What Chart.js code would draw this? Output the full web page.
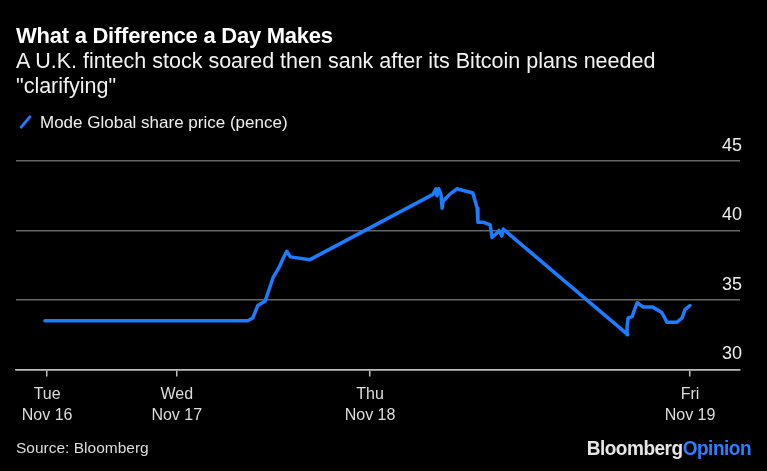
<!DOCTYPE html>
<html>
<head>
<meta charset="utf-8">
<script src="https://cdn.jsdelivr.net/npm/chart.js@4"></script>
<style>
  body { margin: 0; background: #000; width: 767px; height: 471px; overflow: hidden; font-family: "Liberation Sans", Arial, sans-serif; color: #fff; }
  #wrap { position: absolute; left: 0; top: 0; width: 767px; height: 471px; }
  .txt { position: absolute; left: 16px; white-space: nowrap; }
  #title { top: 23px; font-size: 22px; font-weight: bold; letter-spacing: -0.25px; }
  #sub { top: 49px; font-size: 21.5px; line-height: 25px; color: #f2f2f2; }
  #legend { top: 113px; font-size: 17px; color: #eee; }
  #legend i { display: inline-block; width: 3px; height: 16px; background: #1a7cff; transform: rotate(40deg); margin: 0 13px -2px 8px; border-radius: 1px; }
  #source { top: 439px; font-size: 15.5px; color: #ddd; }
  #logo { position: absolute; right: 16px; top: 437px; font-family: "Liberation Sans Narrow", "Arial Narrow", sans-serif; font-weight: bold; font-size: 20px; color: #e6e6e6; letter-spacing: -0.5px; transform: scaleX(0.95); transform-origin: right center; }
  #logo span { color: #2a7fff; }
</style>
</head>
<body>
<div id="wrap"><canvas id="myChart"></canvas></div>
<div class="txt" id="title">What a Difference a Day Makes</div>
<div class="txt" id="sub">A U.K. fintech stock soared then sank after its Bitcoin plans needed<br>"clarifying"</div>
<div class="txt" id="legend"><i></i>Mode Global share price (pence)</div>
<div class="txt" id="source">Source: Bloomberg</div>
<div id="logo">Bloomberg<span>Opinion</span></div>
<script>
"use strict"
// Daten (x = Position auf der Handelszeit-Achse, 0..100)
const dayTicks = [4.3, 22.2, 48.9, 93.1];
const dayLabels = [["Tue", "Nov 16"], ["Wed", "Nov 17"], ["Thu", "Nov 18"], ["Fri", "Nov 19"]];
const priceTicks = [30, 35, 40, 45];

const sessionPos = [4.0, 32.0, 32.7, 33.4, 34.4, 35.5, 36.3, 36.9, 37.4, 37.9, 40.6,
  57.6, 58.0, 58.15, 58.4, 58.7, 58.85, 59.0, 59.9, 60.9, 63.1, 63.7, 63.8, 64.5, 65.5,
  65.75, 66.4, 66.7, 67.1, 67.3, 84.5, 84.4, 84.55, 85.1, 85.5, 85.8, 86.6, 87.9, 89.2,
  89.9, 91.3, 92.0, 92.4, 93.1];
const price = [33.5, 33.5, 33.7, 34.6, 34.9, 36.6, 37.3, 38.0, 38.5, 38.1, 37.9,
  42.6, 43.0, 42.5, 43.0, 42.6, 41.6, 42.1, 42.6, 43.0, 42.7, 41.6, 40.6, 40.6, 40.4,
  39.5, 39.8, 40.0, 39.6, 40.1, 32.5, 33.1, 33.7, 33.8, 34.4, 34.8, 34.5, 34.5, 34.1,
  33.4, 33.4, 33.7, 34.3, 34.6];

let points = [];
for (let i = 0; i < sessionPos.length; i++) {
    points.push({x: sessionPos[i], y: price[i]});
}

const config = {
    type: 'line',
    data: {
        datasets: [{
            label: 'Mode Global share price (pence)',
            data: points,
            borderColor: '#1a7cff',
            borderWidth: 3.5,
            pointRadius: 0,
            tension: 0,
            borderJoinStyle: 'round',
            borderCapStyle: 'round'
        }]
    },
    options: {
        responsive: true,
        maintainAspectRatio: false,
        animation: false,
        layout: { padding: { left: 16, right: 23, top: 161, bottom: 37 } },
        plugins: { legend: { display: false }, tooltip: { enabled: false } },
        scales: {
            x: {
                type: 'linear',
                min: 0, max: 100,
                afterBuildTicks: function (axis) {
                    axis.ticks = dayTicks.map(v => ({value: v}));
                },
                grid: { drawOnChartArea: false, drawTicks: true, tickLength: 7, color: '#bbb', lineWidth: 1.5 },
                border: { display: true, color: '#bbb', width: 1.5 },
                ticks: {
                    color: '#ddd',
                    font: { family: '"Liberation Sans", Arial, sans-serif', size: 16, lineHeight: 1.3 },
                    maxRotation: 0,
                    autoSkip: false,
                    padding: 8,
                    callback: function (value) {
                        let idx = dayTicks.indexOf(value);
                        return idx >= 0 ? dayLabels[idx] : '';
                    }
                }
            },
            y: {
                position: 'right',
                min: 30, max: 45,
                afterBuildTicks: function (axis) {
                    axis.ticks = priceTicks.map(v => ({value: v}));
                },
                grid: {
                    drawTicks: false,
                    lineWidth: 1.5,
                    color: function (ctx) { return ctx.tick && ctx.tick.value == 30 ? '#bbb' : '#666'; }
                },
                border: { display: false },
                ticks: {
                    mirror: true,
                    padding: 2,
                    labelOffset: -15,
                    color: '#eee',
                    font: { family: '"Liberation Sans", Arial, sans-serif', size: 18 }
                }
            }
        }
    }
};

var my_chart = new Chart(document.getElementById('myChart'), config);
</script>
</body>
</html>
